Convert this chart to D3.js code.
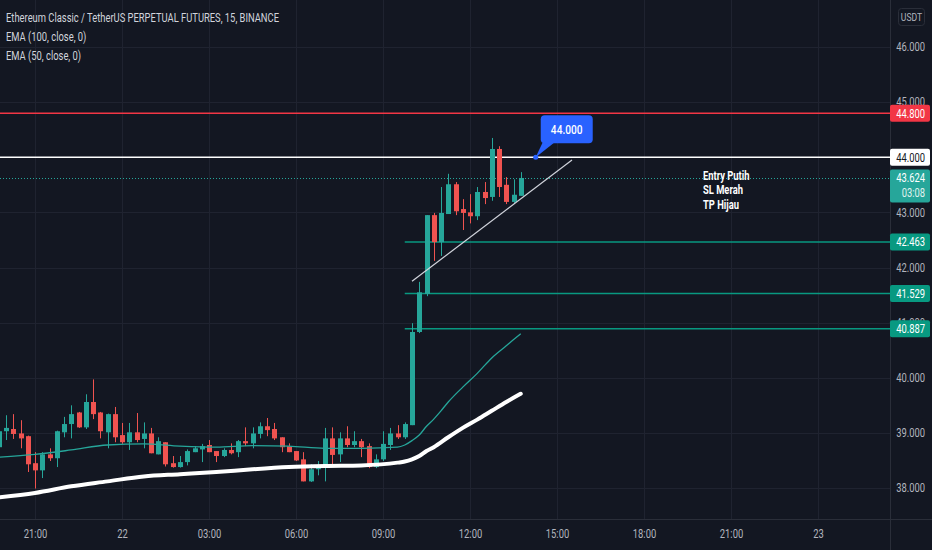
<!DOCTYPE html>
<html><head><meta charset="utf-8">
<script src="https://cdn.jsdelivr.net/npm/d3@7"></script>
<style>
html,body{margin:0;padding:0;background:#131722;overflow:hidden;}
svg{display:block;font-family:Roboto,"Noto Sans",sans-serif;}
</style></head><body><svg id="c" width="932" height="550"></svg>
<script>
// ---------- DATA ----------
const title = "Ethereum Classic / TetherUS PERPETUAL FUTURES, 15, BINANCE";
const legendLabels = ["EMA (100, close, 0)", "EMA (50, close, 0)"];
const firstCandle = Date.UTC(2023,0,21,19,45);
const candleMinutes = 15;
const open  = [38.74,39.03,39.07,38.99,38.94,38.45,38.32,38.61,38.54,39.01,39.16,39.37,39.10,39.56,39.37,39.01,39.34,38.96,38.83,39.01,38.89,38.99,38.61,38.83,38.45,38.38,38.47,38.65,38.70,38.78,38.67,38.58,38.69,38.65,38.85,38.81,38.98,39.12,39.07,38.92,38.76,38.67,38.52,38.12,38.34,38.38,38.90,38.61,38.90,38.78,38.85,38.76,38.38,38.52,38.78,38.99,38.92,39.14,40.83,41.52,42.95,42.46,42.97,43.51,43.06,43.00,42.93,43.37,43.28,44.15,43.50,43.19,43.30];
const high  = [39.14,39.32,39.34,39.23,38.95,38.65,38.65,38.72,39.04,39.29,39.50,39.38,39.70,39.97,39.38,39.35,39.47,39.18,39.18,39.36,39.19,39.09,38.92,38.83,38.58,38.58,38.70,38.76,38.80,38.87,38.67,38.72,38.81,38.87,39.10,39.10,39.19,39.27,39.18,38.92,38.81,38.67,38.65,38.43,38.49,39.09,39.10,39.01,39.12,39.03,38.89,38.81,38.61,39.03,39.09,39.14,39.19,40.99,41.74,42.95,42.99,43.46,43.70,43.55,43.24,43.33,43.46,43.55,44.35,44.20,43.64,43.60,43.73];
const low   = [38.69,38.87,38.89,38.72,38.29,37.99,38.18,38.49,38.38,38.92,38.90,39.09,39.07,39.25,38.90,38.72,38.83,38.80,38.69,38.83,38.72,38.63,38.61,38.39,38.37,38.37,38.41,38.65,38.47,38.65,38.47,38.56,38.61,38.56,38.76,38.72,38.90,38.94,38.87,38.65,38.65,38.49,38.12,38.11,38.23,38.12,38.43,38.47,38.74,38.74,38.56,38.36,38.36,38.49,38.69,38.89,38.89,39.14,40.81,41.48,42.12,42.21,42.97,42.95,42.68,42.80,42.86,43.15,43.21,43.28,43.15,43.17,43.30];
const close = [39.03,39.09,38.98,38.90,38.43,38.32,38.61,38.54,39.03,39.16,39.34,39.10,39.56,39.34,39.03,39.34,38.92,38.83,39.01,38.87,38.99,38.63,38.85,38.43,38.38,38.47,38.67,38.72,38.76,38.65,38.58,38.69,38.63,38.85,38.81,38.99,39.12,39.05,38.90,38.74,38.65,38.50,38.12,38.34,38.38,38.90,38.60,38.90,38.78,38.85,38.74,38.38,38.52,38.80,38.99,38.92,39.16,40.83,41.55,42.95,42.46,42.99,43.51,43.02,42.99,42.93,43.37,43.26,44.15,43.46,43.19,43.32,43.624];
const ema50Idx  = [0,5,10,15,20,25,30,35,40,45,50,55,56,57,58,59,60,61,62,64,66,68,70,72];
const ema50     = [38.56,38.61,38.69,38.78,38.80,38.76,38.74,38.77,38.76,38.72,38.72,38.74,38.78,38.86,38.96,39.12,39.25,39.40,39.56,39.83,40.08,40.36,40.58,40.80];
const ema100Idx = [0,5,10,15,20,25,30,35,40,45,50,55,56,57,58,59,60,62,64,66,68,70,72];
const ema100    = [37.83,37.91,38.03,38.12,38.21,38.25,38.29,38.34,38.38,38.40,38.41,38.46,38.48,38.52,38.58,38.67,38.74,38.92,39.09,39.24,39.40,39.56,39.71];
const priceTicks = [38,39,40,41,42,43,44,45,46];
const timeTicks = [Date.UTC(2023,0,21,21),Date.UTC(2023,0,22,0),Date.UTC(2023,0,22,3),Date.UTC(2023,0,22,6),Date.UTC(2023,0,22,9),Date.UTC(2023,0,22,12),Date.UTC(2023,0,22,15),Date.UTC(2023,0,22,18),Date.UTC(2023,0,22,21),Date.UTC(2023,0,23,0)];
const timeLabels = ["21:00","22","03:00","06:00","09:00","12:00","15:00","18:00","21:00","23"];
const slPrice = 44.800, entryPrice = 44.000, lastPrice = 43.624, countdown = "03:08";
const tpPrices = [42.463, 41.529, 40.887];
const tpStart = Date.UTC(2023,0,22,9,45);
const trendTimes = [Date.UTC(2023,0,22,10,0), Date.UTC(2023,0,22,15,31)];
const trendPrices = [41.75, 43.95];
const calloutTime = Date.UTC(2023,0,22,14,16), calloutText = "44.000";
const notes = ["Entry Putih","SL Merah","TP Hijau"];
const notePrices = [43.587, 43.333, 43.06];
const noteTime = Date.UTC(2023,0,22,20,2);

// ---------- LAYOUT ----------
const W=932,H=550, plotR=890, plotB=519;
const C = {bg:"#131722", grid:"#1f2330", axis:"#2a2e39", txt:"#b2b5be", up:"#26a69a", down:"#ef5350",
  red:"#f23645", tp:"#089981", blue:"#2962ff"};
const svg = d3.select("#c");
svg.append("rect").attr("width",W).attr("height",H).attr("fill",C.bg);

const x = d3.scaleUtc().domain([timeTicks[0], timeTicks[timeTicks.length-1]]).range([35,818]);
const y = d3.scaleLinear().domain([38,46]).range([488,47]);
const tOf = i => firstCandle + i*candleMinutes*60000;

const defs = svg.append("defs");
defs.append("clipPath").attr("id","plot").append("rect").attr("x",0).attr("y",0).attr("width",plotR).attr("height",plotB);

// grid
const g = svg.append("g").attr("clip-path","url(#plot)");
g.selectAll(".vg").data(timeTicks).join("line").attr("x1",d=>Math.round(x(d))+0.5).attr("x2",d=>Math.round(x(d))+0.5)
 .attr("y1",0).attr("y2",plotB).attr("stroke",C.grid);
g.selectAll(".hg").data(priceTicks).join("line").attr("y1",d=>Math.round(y(d))+0.5).attr("y2",d=>Math.round(y(d))+0.5)
 .attr("x1",0).attr("x2",plotR).attr("stroke",C.grid);

// horizontal levels
g.append("line").attr("x1",0).attr("x2",plotR).attr("y1",y(slPrice)).attr("y2",y(slPrice)).attr("stroke",C.red).attr("stroke-width",1.5);
g.append("line").attr("x1",0).attr("x2",plotR).attr("y1",y(entryPrice)).attr("y2",y(entryPrice)).attr("stroke","#ffffff").attr("stroke-width",1.5);
g.append("line").attr("x1",0).attr("x2",plotR).attr("y1",Math.round(y(lastPrice))+0.5).attr("y2",Math.round(y(lastPrice))+0.5)
 .attr("stroke",C.up).attr("stroke-width",1).attr("stroke-dasharray","1,2");
g.selectAll(".tp").data(tpPrices).join("line").attr("x1",x(tpStart)).attr("x2",plotR)
 .attr("y1",d=>y(d)).attr("y2",d=>y(d)).attr("stroke",C.tp).attr("stroke-width",1.5);

// candles
const candles = open.map((o,i)=>({t:tOf(i),o,h:high[i],l:low[i],c:close[i]}));
const cg = g.append("g");
const bw = 5;
cg.selectAll(".wick").data(candles).join("line")
 .attr("x1",d=>Math.round(x(d.t))+0.5).attr("x2",d=>Math.round(x(d.t))+0.5)
 .attr("y1",d=>y(d.h)).attr("y2",d=>y(d.l)).attr("stroke",d=>d.c>=d.o?C.up:C.down).attr("stroke-width",1);
cg.selectAll(".body").data(candles).join("rect")
 .attr("x",d=>Math.round(x(d.t))+0.5-bw/2).attr("width",bw)
 .attr("y",d=>y(Math.max(d.o,d.c))).attr("height",d=>Math.max(1.2,Math.abs(y(d.o)-y(d.c))))
 .attr("fill",d=>d.c>=d.o?C.up:C.down);

// EMAs
const line = d3.line().x(d=>x(d[0])).y(d=>y(d[1])).curve(d3.curveMonotoneX);
g.append("path").datum(ema50Idx.map((k,j)=>[tOf(k),ema50[j]])).attr("d",line).attr("fill","none").attr("stroke",C.up).attr("stroke-width",1.3);
g.append("path").datum(ema100Idx.map((k,j)=>[tOf(k),ema100[j]])).attr("d",line).attr("fill","none").attr("stroke","#ffffff").attr("stroke-width",4).attr("stroke-linecap","round");

// trendline
g.append("line").attr("x1",x(trendTimes[0])).attr("y1",y(trendPrices[0])).attr("x2",x(trendTimes[1])).attr("y2",y(trendPrices[1]))
 .attr("stroke","#d1d4dc").attr("stroke-width",1.2);

// callout
const cx0 = x(calloutTime), cy0 = y(entryPrice);
const bx = cx0+5, byTop = cy0-42, bwid = 52, bh = 28;
g.append("path").attr("d",`M${cx0},${cy0} L${bx+2},${byTop+bh-1} L${bx+14},${byTop+bh-1} Z`).attr("fill",C.blue);
g.append("rect").attr("x",bx).attr("y",byTop).attr("width",bwid).attr("height",bh).attr("rx",4).attr("fill",C.blue);
g.append("circle").attr("cx",cx0).attr("cy",cy0).attr("r",2.5).attr("fill",C.blue);
g.append("text").attr("x",bx+bwid/2).attr("y",byTop+bh/2+4.5).attr("text-anchor","middle")
 .attr("fill","#fff").attr("font-size",13).attr("font-weight",500).text(calloutText).attr("class","cond");

// notes
g.selectAll(".note").data(notes).join("text").attr("class","cond")
 .attr("x",x(noteTime)).attr("y",(d,i)=>y(notePrices[i])).attr("fill","#fff").attr("font-size",12).attr("font-weight",700).text(d=>d);

// axes frame
svg.append("line").attr("x1",plotR+0.5).attr("x2",plotR+0.5).attr("y1",0).attr("y2",H).attr("stroke",C.axis);
svg.append("line").attr("x1",0).attr("x2",W).attr("y1",plotB+0.5).attr("y2",plotB+0.5).attr("stroke",C.axis);

// bottom axis
const xa = svg.append("g").attr("transform",`translate(0,${plotB})`)
 .call(d3.axisBottom(x).tickValues(timeTicks).tickFormat((d,i)=>timeLabels[i]).tickSize(0).tickPadding(10));
xa.select(".domain").remove();
xa.selectAll("text").attr("fill",C.txt).attr("font-size",12).attr("font-family","Roboto").attr("class","cond");

// right axis (labels right-aligned)
const ya = svg.append("g").attr("transform",`translate(${plotR},0)`)
 .call(d3.axisRight(y).tickValues(priceTicks).tickFormat(d3.format(".3f")).tickSize(0).tickPadding(8));
ya.select(".domain").remove();
ya.selectAll("text").attr("fill",C.txt).attr("font-size",12).attr("font-family","Roboto")
 .attr("text-anchor","end").attr("x",35).attr("class","cond");

// USDT box
svg.append("rect").attr("x",898.5).attr("y",8.5).attr("width",26).attr("height",17).attr("rx",3).attr("fill","none").attr("stroke","#2a2e39");
svg.append("text").attr("x",911.5).attr("y",21).attr("text-anchor","middle").attr("fill",C.txt).attr("font-size",11).text("USDT").attr("class","cond");

// price labels
const fmt = d3.format(".3f");
const tags = [
 {v:slPrice, bg:C.red, fg:"#fff"},
 {v:entryPrice, bg:"#ffffff", fg:"#131722"},
 {v:tpPrices[0], bg:C.tp, fg:"#fff"},
 {v:tpPrices[1], bg:C.tp, fg:"#fff"},
 {v:tpPrices[2], bg:C.tp, fg:"#fff"}];
const tg = svg.append("g");
tags.forEach(t=>{
  tg.append("rect").attr("x",plotR).attr("y",y(t.v)-8.5).attr("width",40).attr("height",17).attr("rx",2).attr("fill",t.bg);
  tg.append("text").attr("x",925).attr("text-anchor","end").attr("y",y(t.v)+4.5).attr("fill",t.fg).attr("font-size",12).text(fmt(t.v)).attr("class","cond");
});
// last price with countdown
tg.append("rect").attr("x",plotR).attr("y",y(lastPrice)-8.5).attr("width",40).attr("height",33).attr("rx",2).attr("fill",C.up);
tg.append("text").attr("x",925).attr("text-anchor","end").attr("y",y(lastPrice)+4.5).attr("fill","#fff").attr("font-size",12).text(fmt(lastPrice)).attr("class","cond");
tg.append("text").attr("x",925).attr("text-anchor","end").attr("y",y(lastPrice)+19.5).attr("fill","#e0f2ef").attr("font-size",12).text(countdown).attr("class","cond");

// legend
const lg = svg.append("g");
const tTitle = lg.append("text").attr("x",6).attr("y",22).attr("fill","#d1d4dc").attr("font-size",12).text(title);
legendLabels.forEach((s,i)=>lg.append("text").attr("x",6).attr("y",41+19*i).attr("fill","#d1d4dc").attr("font-size",12).text(s).attr("class","cond"));

// condense text to match narrow UI font
const target = 273;
const k = target / tTitle.node().getComputedTextLength();
tTitle.attr("textLength",target).attr("lengthAdjust","spacingAndGlyphs");
svg.selectAll("text.cond").each(function(){
  const n=d3.select(this); const w=this.getComputedTextLength();
  n.attr("textLength",w*k).attr("lengthAdjust","spacingAndGlyphs");
});
</script></body></html>
